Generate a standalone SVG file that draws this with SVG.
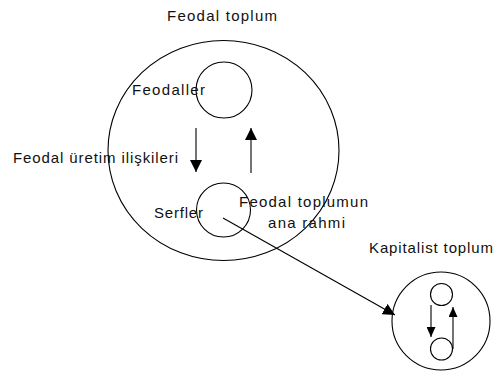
<svg xmlns="http://www.w3.org/2000/svg" width="495" height="372" viewBox="0 0 495 372">
<defs>
<style>
.s{fill:none;stroke:#000;stroke-width:1.1}
.t{font-family:"Liberation Sans",Arial,sans-serif;font-size:15px;fill:#111}
</style>
<marker id="ah" viewBox="0 0 12 12" refX="12" refY="6" markerWidth="12" markerHeight="12" markerUnits="userSpaceOnUse" orient="auto">
<path d="M0,0 L12,6 L0,12 Z" fill="#000"/>
</marker>
<marker id="ahs" viewBox="0 0 10 9" refX="10" refY="4.5" markerWidth="10" markerHeight="9" markerUnits="userSpaceOnUse" orient="auto">
<path d="M0,0 L10,4.5 L0,9 Z" fill="#000"/>
</marker>
</defs>
<rect width="495" height="372" fill="#fff"/>
<g id="feodal-toplum">
<ellipse class="s" cx="223.5" cy="150.5" rx="115.5" ry="110"/>
<text class="t" x="167" y="20.5" textLength="110" lengthAdjust="spacing">Feodal toplum</text>
</g>
<g id="feodaller">
<circle class="s" cx="224" cy="90" r="28"/>
<text class="t" x="132" y="95" textLength="73" lengthAdjust="spacing">Feodaller</text>
</g>
<g id="serfler">
<circle class="s" cx="223.5" cy="210" r="27"/>
<text class="t" x="154" y="218" textLength="49" lengthAdjust="spacing">Serfler</text>
</g>
<g id="uretim-label">
<text class="t" x="13" y="163" textLength="165" lengthAdjust="spacing">Feodal üretim ilişkileri</text>
</g>
<g id="ana-rahmi">
<text class="t" x="239" y="207" textLength="129" lengthAdjust="spacing">Feodal toplumun</text>
<text class="t" x="268" y="227.5" textLength="77" lengthAdjust="spacing">ana rahmi</text>
</g>
<g id="kapitalist-toplum">
<circle class="s" cx="441" cy="321" r="49"/>
<circle class="s" cx="441.5" cy="294.5" r="11"/>
<circle class="s" cx="441.5" cy="349" r="11"/>
<text class="t" x="369" y="253" textLength="124" lengthAdjust="spacing">Kapitalist toplum</text>
</g>
<g id="connectors">
<line class="s" x1="196" y1="128" x2="196" y2="172" marker-end="url(#ah)"/>
<line class="s" x1="251" y1="173" x2="251" y2="128" marker-end="url(#ah)"/>
<line class="s" x1="223" y1="218" x2="395" y2="315" marker-end="url(#ah)"/>
<line class="s" x1="431" y1="305" x2="431" y2="337" marker-end="url(#ahs)"/>
<line class="s" x1="453" y1="349" x2="453" y2="307" marker-end="url(#ahs)"/>
</g>
</svg>
